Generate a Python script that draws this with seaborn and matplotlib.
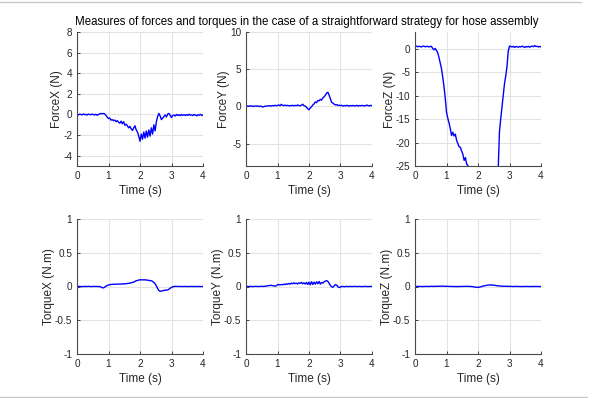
import numpy as np
import pandas as pd
import matplotlib
matplotlib.use("Agg")
import matplotlib.pyplot as plt
from matplotlib.lines import Line2D
import seaborn as sns

# Sampling instants (s)
time_s = np.round(np.arange(101) * 0.04, 2)

force_x = [
    0.02, -0.05, 0.03, 0.0, -0.04, 0.05, -0.02, 0.01, -0.06, 0.03,
    0.0, -0.03, 0.04, -0.01, -0.05, 0.02, -0.08, 0.0, 0.05, 0.1,
    0.06, 0.1, 0.05, -0.1, -0.25, -0.4, -0.35, -0.55, -0.5, -0.6,
    -0.55, -0.7, -0.6, -0.75, -0.85, -0.65, -0.9, -0.7, -1.05, -0.95,
    -1.1, -1.3, -1.15, -1.4, -1.55, -1.3, -1.1, -1.5, -1.7, -2.1,
    -2.6, -1.9, -2.4, -1.7, -2.3, -1.6, -2.2, -1.5, -2.1, -1.3,
    -1.9, -1.0, -1.6, -0.7, -0.2, 0.1, -0.15, -0.5, -0.35, -0.2,
    -0.05, -0.25, 0.05, 0.1, -0.1, -0.3, -0.1, -0.05, -0.15, 0.0,
    -0.1, -0.02, -0.12, 0.0, -0.08, -0.03, -0.1, -0.01, -0.09, 0.02,
    -0.07, -0.04, -0.11, 0.0, -0.06, -0.13, -0.02, -0.08, 0.01, -0.1,
    -0.04,
]

force_y = [
    0.0, 0.05, 0.02, 0.08, 0.04, 0.06, 0.0, 0.05, 0.03, 0.07,
    0.02, 0.0, 0.05, -0.08, -0.05, 0.04, 0.02, 0.08, 0.06, 0.1,
    0.05, 0.12, 0.08, 0.15, 0.1, 0.13, 0.2, 0.1, 0.28, 0.15,
    0.12, 0.18, 0.1, 0.15, 0.08, 0.12, 0.1, 0.16, 0.08, 0.14,
    0.1, 0.2, 0.12, 0.08, 0.18, 0.3, 0.1, 0.05, -0.1, -0.3,
    -0.45, -0.2, -0.05, 0.2, 0.35, 0.6, 0.5, 0.8, 0.75, 0.95,
    0.85, 1.15, 1.3, 1.5, 1.8, 1.9, 1.5, 1.0, 0.55, 0.45,
    0.3, 0.2, 0.25, 0.12, 0.18, 0.1, 0.15, 0.05, 0.12, 0.08,
    0.15, 0.1, 0.05, 0.12, 0.08, 0.14, 0.06, 0.1, 0.15, 0.05,
    0.12, 0.08, 0.14, 0.1, 0.06, 0.12, 0.18, 0.1, 0.08, 0.15,
    0.1,
]

force_z = [
    0.5, 0.6, 0.45, 0.55, 0.5, 0.4, 0.55, 0.6, 0.45, 0.5,
    0.55, 0.4, 0.5, 0.55, 0.1, -0.2, 0.1, -0.3, -0.8, -1.8,
    -3.0, -4.2, -6.0, -8.0, -10.5, -13.5, -14.8, -15.8, -17.0, -18.5,
    -17.8, -18.6, -18.2, -19.5, -20.2, -20.9, -21.0, -21.8, -22.5, -23.8,
    -23.2, -24.6, -24.9, -25.8, -27.0, -28.0, -29.1, -30.2, -31.0, -31.8,
    -32.5, -33.0, -33.4, -33.8, -34.0, -34.1, -34.0, -33.6, -33.0, -32.0,
    -30.8, -29.5, -28.4, -27.8, -27.0, -26.5, -26.0, -17.8, -15.0, -12.5,
    -10.0, -7.5, -5.8, -3.8, -0.5, 0.6, 0.5, 0.4, 0.55, 0.3,
    0.5, 0.45, 0.35, 0.5, 0.4, 0.6, 0.45, 0.3, 0.5, 0.4,
    0.55, 0.35, 0.5, 0.6, 0.45, 0.7, 0.5, 0.55, 0.4, 0.5,
    0.45,
]

torque_x = [
    0.0, 0.0, 0.002, 0.0, -0.002, 0.0, 0.001, 0.0, 0.0, 0.002,
    0.0, -0.001, 0.0, 0.001, 0.0, 0.002, 0.0, -0.002, 0.0, -0.008,
    -0.018, -0.02, -0.01, 0.005, 0.015, 0.022, 0.026, 0.03, 0.032, 0.033,
    0.034, 0.035, 0.034, 0.036, 0.035, 0.037, 0.038, 0.038, 0.04, 0.042,
    0.045, 0.047, 0.05, 0.055, 0.06, 0.065, 0.075, 0.085, 0.09, 0.095,
    0.1, 0.098, 0.1, 0.097, 0.099, 0.096, 0.094, 0.09, 0.088, 0.085,
    0.075, 0.06, 0.04, 0.01, -0.03, -0.06, -0.07, -0.068, -0.062, -0.058,
    -0.055, -0.055, -0.05, -0.04, -0.025, -0.012, -0.004, 0.0, 0.002, 0.001,
    0.0, 0.001, 0.0, -0.001, 0.0, 0.001, 0.0, 0.0, -0.001, 0.0,
    0.001, 0.0, 0.0, -0.001, 0.0, 0.001, 0.0, 0.0, -0.001, 0.0,
    0.0,
]

torque_y = [
    0.0, 0.001, 0.0, 0.002, 0.0, -0.001, 0.0, 0.001, 0.002, 0.0,
    0.001, 0.0, 0.002, 0.003, 0.001, 0.004, 0.006, 0.01, 0.012, 0.015,
    0.018, 0.012, 0.01, 0.005, 0.01, 0.025, 0.03, 0.022, 0.03, 0.025,
    0.035, 0.028, 0.04, 0.032, 0.045, 0.035, 0.05, 0.04, 0.055, 0.042,
    0.05, 0.038, 0.055, 0.045, 0.06, 0.04, 0.055, 0.035, 0.06, 0.03,
    0.065, 0.025, 0.07, 0.03, 0.065, 0.035, 0.07, 0.04, 0.075, 0.035,
    0.06, 0.05, 0.07, 0.08, 0.088, 0.075, 0.045, 0.015, -0.005, -0.01,
    0.01, 0.028, 0.02, -0.005, -0.015, -0.008, 0.002, 0.0, -0.004, 0.0,
    0.002, -0.002, 0.0, 0.001, -0.001, 0.0, 0.002, 0.0, -0.001, 0.0,
    0.001, 0.0, -0.002, 0.0, 0.001, 0.0, 0.0, -0.001, 0.0, 0.001,
    0.0,
]

torque_z = [
    0.0, 0.001, 0.0, 0.002, 0.001, 0.0, -0.001, 0.0, 0.001, 0.002,
    0.001, 0.0, 0.002, 0.003, 0.002, 0.001, 0.003, 0.002, 0.004, 0.003,
    0.005, 0.004, 0.006, 0.004, 0.003, 0.002, 0.003, 0.001, 0.002, 0.0,
    0.001, -0.001, 0.0, -0.002, 0.0, -0.001, 0.001, 0.0, 0.002, 0.001,
    0.003, 0.002, 0.002, 0.001, 0.0, 0.0, -0.003, -0.006, -0.01, -0.012,
    -0.013, -0.01, -0.005, 0.0, 0.006, 0.01, 0.014, 0.018, 0.02, 0.022,
    0.024, 0.02, 0.022, 0.018, 0.015, 0.012, 0.01, 0.008, 0.006, 0.005,
    0.004, 0.003, 0.004, 0.002, 0.003, 0.001, 0.002, 0.001, 0.0, 0.001,
    0.002, 0.0, 0.001, 0.0, -0.001, 0.0, 0.001, 0.0, 0.0, 0.001,
    0.0, -0.001, 0.0, 0.001, 0.0, 0.0, 0.001, 0.0, 0.0, -0.001,
    0.0,
]

y_labels = ["ForceX (N)", "ForceY (N)", "ForceZ (N)",
            "TorqueX (N.m)", "TorqueY (N.m)", "TorqueZ (N.m)"]
y_limits = [(-5, 8), (-8, 10), (-25, 3.6), (-1, 1), (-1, 1), (-1, 1)]
y_ticks = [
    [-4, -2, 0, 2, 4, 6, 8],
    [-5, 0, 5, 10],
    [-25, -20, -15, -10, -5, 0],
    [-1, -0.5, 0, 0.5, 1],
    [-1, -0.5, 0, 0.5, 1],
    [-1, -0.5, 0, 0.5, 1],
]
x_ticks = [0, 1, 2, 3, 4]
title = ("Measures of forces and torques in the case of a "
         "straightforward strategy for hose assembly")

series = [force_x, force_y, force_z, torque_x, torque_y, torque_z]

sns.set_theme(style="white")
plt.rcParams["font.family"] = ["Liberation Sans", "DejaVu Sans"]

ink = "#262626"
fig = plt.figure(figsize=(5.9, 3.98), dpi=100)

col_left = [77, 246, 415]
row_top = [32, 219]
row_bottom = [166, 354]
W, H = 590.0, 398.0
ax_w = 126

for i, (vals, lab, lim, yt) in enumerate(zip(series, y_labels, y_limits, y_ticks)):
    r, c = divmod(i, 3)
    left = col_left[c] / W
    bottom = 1 - row_bottom[r] / H
    height = (row_bottom[r] - row_top[r]) / H
    ax = fig.add_axes([left, bottom, ax_w / W, height])
    df = pd.DataFrame({"t": time_s, "v": vals})
    sns.lineplot(data=df, x="t", y="v", ax=ax, color="#0000ff",
                 linewidth=1.0, estimator=None, sort=False)
    ax.set_xlim(0, 4)
    ax.set_ylim(*lim)
    ax.set_xticks(x_ticks)
    ax.set_yticks(yt)
    ax.set_yticklabels([f"{v:g}" for v in yt])
    ax.grid(True, color="#e3e3e3", linewidth=0.8)
    ax.set_axisbelow(True)
    for side in ("top", "right"):
        ax.spines[side].set_visible(False)
    for side in ("left", "bottom"):
        ax.spines[side].set_color("#4a4a4a")
        ax.spines[side].set_linewidth(0.8)
    ax.tick_params(direction="in", length=2.5, width=0.6, colors=ink,
                   labelsize=7.2, pad=3.5, left=True, bottom=True)
    ax.set_xlabel("Time (s)", fontsize=8.5, color=ink, labelpad=3)
    ax.set_ylabel(lab, fontsize=8.5, color=ink, labelpad=0)

fig.text(307 / W, 1 - 22 / H, title, ha="center", va="center",
         fontsize=8.3, color="black")

# thin rules framing the figure
fig.add_artist(Line2D([0.0, 0.985], [1 - 1.5 / H, 1 - 1.5 / H],
                      color="#c8c8c8", linewidth=1.0))
fig.add_artist(Line2D([0.0, 0.995], [1 - 396.5 / H, 1 - 396.5 / H],
                      color="#c8c8c8", linewidth=1.0))

fig.savefig("out.png", dpi=100, facecolor="white")
